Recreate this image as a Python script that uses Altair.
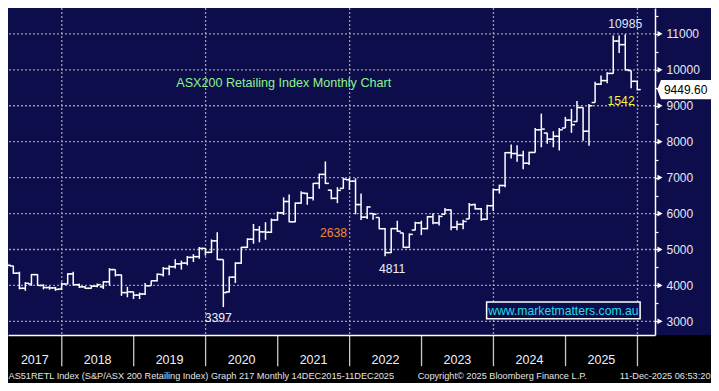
import altair as alt
import pandas as pd

# ---------------- data ----------------
months = (pd.period_range("2017-03", "2025-12", freq="M")
          .to_timestamp(how="end").strftime("%Y-%m-%d").tolist())

open_ = [4580, 4540, 4340, 3920, 4040, 4300, 4000, 3940, 3930, 3900,
         4040, 4320, 4020, 3960, 3920, 3980, 3960, 4100, 4440, 4290, 3800, 3820,
         3730, 3760, 3990, 4130, 4300, 4470, 4520, 4600, 4620, 4780, 4800, 5030,
         4920, 5240, 4720, 3820, 4230, 4620, 5060, 5285, 5550, 5490, 5480, 5820,
         6020, 6335, 5770, 6290, 6560, 6440, 6840, 7090, 6650, 6423, 6700, 6940,
         6900, 6250, 5900, 6000, 5890, 5578, 4912, 5580, 5460, 5060, 5540, 5739,
         5580, 5910, 5740, 5980, 6100, 5620, 5700, 5850, 6250, 6130, 5840, 6218,
         6663, 6780, 7694, 7670, 7620, 7400, 7700, 8330, 8240, 8070, 8150, 8380,
         8600, 8560, 8950, 8290, 9090, 9600, 9700, 9900, 10800, 10700, 9979, 9680]
high = [4620, 4550, 4380, 4090, 4320, 4310, 4030, 3980, 3960, 4080,
        4340, 4380, 4050, 3980, 4010, 4050, 4120, 4480, 4440, 4300, 3960, 3830,
        3800, 4070, 4140, 4330, 4510, 4560, 4730, 4690, 4820, 4870, 5070, 5040,
        5280, 5480, 4720, 4245, 4645, 5070, 5310, 5710, 5650, 5760, 5860, 6050,
        6450, 6530, 6310, 6620, 6580, 6850, 7110, 7450, 6665, 6734, 7000, 6990,
        6980, 6560, 6200, 6005, 5890, 5600, 5600, 5800, 5463, 5445, 5774, 5800,
        5935, 6005, 5950, 6156, 6112, 5800, 5830, 6290, 6272, 6156, 6245, 6690,
        6805, 7712, 7920, 7900, 7750, 7720, 8380, 8780, 8250, 8290, 8380, 8690,
        8912, 9134, 8956, 9045, 9668, 9845, 9934, 10956, 10956, 10985, 9979, 9690]
low = [4480, 4320, 3890, 3850, 3990, 3990, 3890, 3880, 3850, 3870,
       4030, 4000, 3930, 3900, 3910, 3950, 3900, 4000, 4250, 3710, 3670, 3620,
       3620, 3730, 3990, 4110, 4250, 4280, 4470, 4440, 4560, 4650, 4740, 4830,
       4900, 4710, 3397, 3800, 4070, 4600, 5040, 5160, 5200, 5270, 5460, 5800,
       5960, 5760, 5760, 6270, 6245, 6360, 6690, 6820, 6396, 6290, 6690, 6660,
       5980, 5820, 5845, 5828, 5560, 4811, 4900, 5490, 5045, 5045, 5534, 5400,
       5560, 5700, 5670, 5979, 5534, 5534, 5560, 5845, 6112, 5800, 5830, 6068,
       6556, 6734, 7530, 7440, 7230, 7350, 7700, 7845, 7940, 7845, 7756, 8379,
       8245, 8556, 8023, 7890, 9090, 9579, 9623, 9890, 10468, 9979, 9490, 9428]
close = [4560, 4340, 3920, 4060, 4300, 4000, 3940, 3930, 3890, 4040,
         4320, 4020, 3960, 3920, 3980, 4020, 4100, 4440, 4290, 3800, 3820, 3730,
         3760, 3990, 4130, 4310, 4470, 4520, 4600, 4620, 4780, 4800, 5030, 4920,
         5240, 4720, 3800, 4230, 4620, 5060, 5285, 5550, 5490, 5480, 5820, 6020,
         6335, 5770, 6290, 6570, 6440, 6840, 7090, 6840, 6423, 6645, 6956, 6900,
         6250, 5900, 6183, 5979, 5578, 4912, 5580, 5508, 5060, 5420, 5739, 5580,
         5910, 5740, 5920, 6100, 5620, 5700, 5780, 6240, 6130, 5840, 6218, 6663,
         6780, 7694, 7670, 7620, 7400, 7700, 8330, 8350, 8070, 8150, 8330, 8600,
         8470, 8950, 8290, 9000, 9600, 9700, 9900, 10800, 10700, 10000, 9680, 9449.6]

y_labels = [3000, 4000, 5000, 6000, 7000, 8000, 9000, 10000, 11000]
y_ticks = [3000, 3500, 4000, 4500, 5000, 5500, 6000, 6500, 7000, 7500, 8000,
           8500, 9000, 9500, 10000, 10500, 11000, 11500]
grid_dates = ["2018-01-01", "2020-01-01", "2022-01-01", "2024-01-01", "2026-01-01"]
year_starts = ["2018-01-01", "2019-01-01", "2020-01-01", "2021-01-01", "2022-01-01",
               "2023-01-01", "2024-01-01", "2025-01-01", "2026-01-01"]
years = ["2017", "2018", "2019", "2020", "2021", "2022", "2023", "2024", "2025"]

ann_text = ["10985", "3397", "4811", "2638", "1542"]
ann_date = ["2025-10-31", "2020-03-31", "2022-06-30", "2021-10-11", "2025-10-10"]
ann_value = [10985, 3397, 4811, 5449, 9131]

title_text = "ASX200 Retailing Index Monthly Chart"
site_text = "www.marketmatters.com.au"
footer_left = "AS51RETL Index (S&P/ASX 200 Retailing Index) Graph 217 Monthly 14DEC2015-11DEC2025"
footer_mid = "Copyright\u00a9 2025 Bloomberg Finance L.P."
footer_right = "11-Dec-2025 06:53:20"

# ---------------- layout ----------------
W, H = 703, 375
PW, PH = 647, 327
def sx(v):
    return v * W / 719
def sy(v):
    return v * H / 391

NAVY = "#0e0d4b"
FONT = "Arial, Liberation Sans, sans-serif"
X_START = pd.Timestamp("2017-04-03")
X_END = pd.Timestamp("2026-03-31")

df = pd.DataFrame({"date": months, "open": open_, "high": high, "low": low, "close": close})

xscale = alt.Scale(domain=[alt.DateTime(year=2017, month=4, date=3, utc=True),
                           alt.DateTime(year=2026, month=3, date=31, utc=True)], nice=False)
yscale = alt.Scale(domain=[2620, 11720], nice=False, zero=False)
xaxis = alt.Axis(title=None, labels=False, ticks=False, grid=False, domain=True,
                 domainColor="white", domainWidth=1.5, zindex=1)
yaxis = alt.Axis(orient="right", title=None, values=y_ticks,
                 labelExpr="datum.value % 1000 === 0 ? format(datum.value, 'd') : ''",
                 labelOverlap=False, tickSize=3, tickColor="white", tickWidth=1.2,
                 labelPadding=8, labelColor="#e8e8f2", labelFont=FONT, labelFontSize=12,
                 grid=False, domain=True, domainColor="white", domainWidth=1.5, zindex=1)

def X(field):
    return alt.X(field, type="temporal", scale=xscale, axis=xaxis)
def Y(field):
    return alt.Y(field, type="quantitative", scale=yscale, axis=yaxis)

one = pd.DataFrame({"a": [0]})

bottom_band = alt.Chart(one).mark_rect(color="black", clip=False).encode(
    x=alt.value(0), x2=alt.value(W), y=alt.value(PH), y2=alt.value(H))

hgrid = alt.Chart(pd.DataFrame({"v": y_labels})).mark_rule(
    color="#9c9ca4", strokeDash=[2, 2], strokeWidth=1.3).encode(y=Y("v"))
vgrid = alt.Chart(pd.DataFrame({"d": grid_dates})).mark_rule(
    color="#9c9ca4", strokeDash=[2, 2], strokeWidth=1.3).encode(x=X("d"))

site_box = alt.Chart(one).mark_rect(fill=NAVY, stroke="white", strokeWidth=1.5).encode(
    x=alt.value(sx(489.5)), x2=alt.value(sx(646.5)), y=alt.value(sy(306.5)), y2=alt.value(sy(324)))
site_lbl = alt.Chart(one).mark_text(text=site_text, font=FONT, fontSize=12.2, color="#22dde6",
                                    align="center", baseline="middle").encode(
    x=alt.value(sx(568)), y=alt.value(sy(315.5)))

title_lbl = alt.Chart(one).mark_text(text=title_text, font=FONT, fontSize=12.6, color="#8af58c",
                                     align="center", baseline="middle").encode(
    x=alt.value(sx(282)), y=alt.value(sy(78)))

base = alt.Chart(df)
hl = base.mark_rule(color="white", strokeWidth=1.5, clip=True).encode(
    x=X("date"), y=Y("low"), y2="high")
op = base.mark_tick(orient="horizontal", color="white", size=3.5, thickness=1.5,
                    xOffset=-1.75, opacity=1, clip=True).encode(x=X("date"), y=Y("open"))
cl = base.mark_tick(orient="horizontal", color="white", size=3.5, thickness=1.5,
                    xOffset=1.75, opacity=1, clip=True).encode(x=X("date"), y=Y("close"))

ann_df = pd.DataFrame({"d": ann_date, "v": ann_value, "t": ann_text})
ann_style = [("#dce8ff", 0, -10), ("#f2f2f2", -5, 10.5), ("#eaf0ff", 7, 12.5),
             ("#ee8a30", 0, 0), ("#f4f43c", 0, 0)]
ann_layers = []
for i, (col, dx, dy) in enumerate(ann_style):
    ann_layers.append(
        alt.Chart(ann_df.iloc[[i]]).mark_text(font=FONT, fontSize=12.2, color=col, dx=dx, dy=dy,
                                              align="center", baseline="middle").encode(
            x=X("d"), y=Y("v"), text="t:N"))

seps = alt.Chart(pd.DataFrame({"d": year_starts})).mark_rule(
    color="#c8c8c8", strokeWidth=1.3, clip=False).encode(
    x=X("d"), y=alt.value(PH), y2=alt.value(sy(373.5)))

mids = []
for y in years:
    s = max(pd.Timestamp(f"{y}-01-01"), X_START)
    e = pd.Timestamp(f"{int(y) + 1}-01-01")
    mids.append((s + (e - s) / 2).strftime("%Y-%m-%d"))
year_lbl = alt.Chart(pd.DataFrame({"d": mids, "t": years})).mark_text(
    font=FONT, fontSize=12.5, color="#eef2ff", align="center", baseline="middle", clip=False).encode(
    x=X("d"), y=alt.value(sy(367)), text="t:N")

foot_y = sy(383.5)
f1 = alt.Chart(one).mark_text(text=footer_left, font=FONT, fontSize=9.2, color="#e4e4e4",
                              align="left", baseline="middle").encode(x=alt.value(0.5), y=alt.value(foot_y))
f2 = alt.Chart(one).mark_text(text=footer_mid, font=FONT, fontSize=9.2, color="#e4e4e4",
                              align="left", baseline="middle").encode(x=alt.value(sx(419)), y=alt.value(foot_y))
f3 = alt.Chart(one).mark_text(text=footer_right, font=FONT, fontSize=9.2, color="#e4e4e4",
                              align="right", baseline="middle").encode(x=alt.value(W - 0.5), y=alt.value(foot_y))

tri = alt.Chart(pd.DataFrame({"v": y_labels})).mark_point(
    shape="triangle-right", filled=True, size=34, color="white", opacity=1, clip=False).encode(
    x=alt.value(PW + 5), y=Y("v"))

box_left = sx(664)
box_w = W - box_left
path = "M-1,0L-0.86,-0.36L1,-0.36L1,0.36L-0.86,0.36Z"
price_df = pd.DataFrame({"v": [close[-1]], "t": [f"{close[-1]:.2f}"]})
price_box = alt.Chart(price_df).mark_point(
    shape=path, filled=True, size=box_w * box_w, color="white", opacity=1, strokeWidth=0, clip=False).encode(
    x=alt.value(box_left + box_w / 2), y=Y("v"))
price_lbl = alt.Chart(price_df).mark_text(font=FONT, fontSize=12, color="black",
                                          align="center", baseline="middle", clip=False).encode(
    x=alt.value(box_left + box_w / 2 + 1.5), y=Y("v"), text="t:N")

chart = alt.layer(
    bottom_band, hgrid, vgrid, site_box, site_lbl, title_lbl,
    hl, op, cl, *ann_layers, seps, year_lbl, f1, f2, f3, tri, price_box, price_lbl
).properties(
    width=PW, height=PH, background=NAVY,
    padding={"left": 0, "top": 0, "right": W - PW, "bottom": H - PH},
    autosize=alt.AutoSizeParams(type="none"),
).configure_view(stroke=None)

chart.save("out.html", embed_options={"renderer": "svg", "actions": False})
